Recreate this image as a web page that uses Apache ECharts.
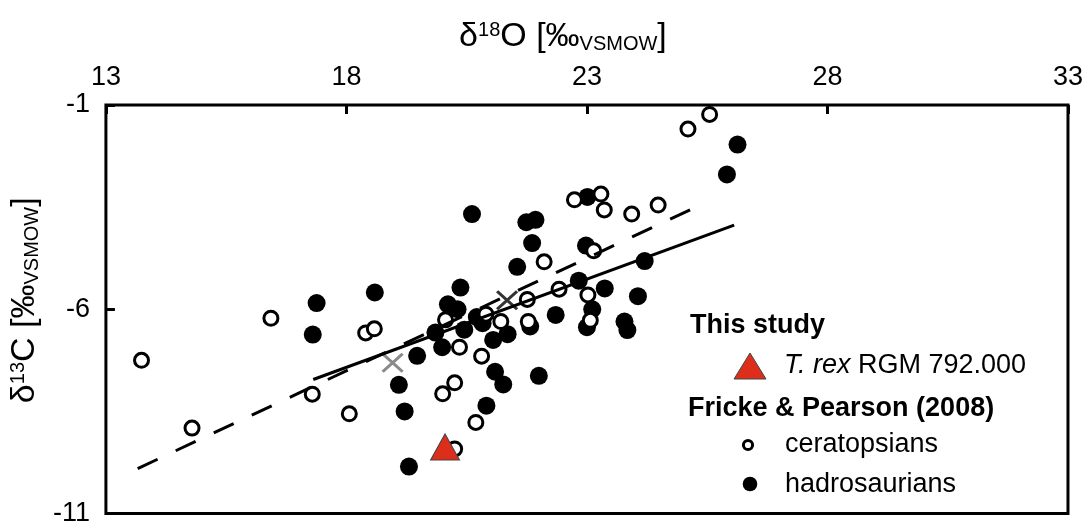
<!DOCTYPE html>
<html>
<head>
<meta charset="utf-8">
<script src="https://cdn.jsdelivr.net/npm/echarts@6/dist/echarts.min.js"></script>
<style>
  html, body { margin: 0; padding: 0; background: #fff; }
  #chart { width: 1086px; height: 527px; }
</style>
</head>
<body>
<div id="chart"></div>
<script>
// Fricke & Pearson (2008) data, [d18O, d13C]
const hadrosaurians = [
  [17.38, -5.85], [17.30, -6.62], [18.59, -5.59], [19.47, -7.14], [19.09, -7.85],
  [19.21, -8.50], [19.30, -9.85], [19.99, -6.93], [19.85, -6.57], [20.11, -5.88],
  [20.31, -6.00], [20.37, -5.47], [20.61, -3.67], [20.45, -6.50], [20.71, -6.19],
  [20.83, -6.34], [21.05, -6.75], [21.35, -6.61], [21.09, -7.53], [21.26, -7.84],
  [20.91, -8.36], [22.00, -7.63], [21.55, -4.96], [21.74, -3.87], [21.93, -3.81],
  [21.86, -4.38], [22.83, -5.30], [23.37, -5.49], [24.06, -5.68], [24.20, -4.82],
  [22.98, -4.44], [23.01, -3.25], [22.35, -6.14], [23.11, -6.00], [23.00, -6.44],
  [21.82, -6.42], [23.78, -6.30], [23.84, -6.51], [26.13, -1.97], [25.91, -2.70]
];
const ceratopsians = [
  [13.74, -7.25], [14.79, -8.91], [16.43, -6.22], [17.29, -8.08], [18.06, -8.56],
  [18.40, -6.58], [18.58, -6.48], [20.00, -8.07], [20.25, -7.80], [20.69, -8.77],
  [20.25, -9.42], [20.06, -6.26], [20.35, -6.93], [20.90, -6.12], [21.21, -6.30],
  [20.81, -7.15], [21.76, -5.76], [21.78, -6.30], [22.11, -4.84], [22.42, -5.51],
  [23.02, -5.65], [23.07, -6.27], [23.14, -4.57], [22.74, -3.32], [23.29, -3.18],
  [23.36, -3.57], [23.93, -3.67], [24.48, -3.45], [25.10, -1.59], [25.55, -1.23]
];
// This study
const tRex = [[20.05, -9.37]];
// group means (X marks)
const meanGrey = [[18.96, -7.31]];
const meanDark = [[21.34, -5.78]];
// regression lines
const fitSolid = [[17.31, -7.72], [26.06, -3.94]];
const fitDashed = [[13.66, -9.90], [25.50, -3.37]];

const FONT = 'Liberation Sans, Arial, Helvetica, sans-serif';
const crossPath = 'path://M0,0L20,20M20,0L0,20';

// rich text for the axis titles (super- and subscripts)
const titleRich = {
  t: { fontSize: 34, color: '#000', fontFamily: FONT },
  sup: { fontSize: 20, color: '#000', verticalAlign: 'top', fontFamily: FONT },
  sub: { fontSize: 20, color: '#000', verticalAlign: 'bottom', fontFamily: FONT }
};

let myChart = echarts.init(document.getElementById('chart'));

let option = {
  animation: false,
  textStyle: { fontFamily: FONT, color: '#000' },
  grid: {
    left: 104, top: 105, width: 967, height: 412,
    show: true, borderColor: '#000', borderWidth: 3, backgroundColor: 'transparent'
  },
  xAxis: {
    type: 'value',
    position: 'top',
    min: 13, max: 33, interval: 5,
    axisLine: { show: false },
    axisTick: { inside: true, length: 9, lineStyle: { color: '#000', width: 3 } },
    splitLine: { show: false },
    axisLabel: { fontSize: 27, color: '#000', margin: 14, fontFamily: FONT },
    name: '{t|δ}{sup|18}{t|O [‰}{sub|VSMOW}{t|]}',
    nameLocation: 'middle',
    nameGap: 51,
    nameTextStyle: { fontFamily: FONT, rich: titleRich, padding: [0, 48, 0, 0] }
  },
  yAxis: {
    type: 'value',
    min: -11, max: -1, interval: 5,
    axisLine: { show: false },
    axisTick: { inside: true, length: 9, lineStyle: { color: '#000', width: 3 } },
    splitLine: { show: false },
    axisLabel: { fontSize: 27, color: '#000', margin: 16, fontFamily: FONT },
    name: '{t|δ}{sup|13}{t|C [‰}{sub|VSMOW}{t|]}',
    nameLocation: 'middle',
    nameRotate: 90,
    nameGap: 47,
    nameTextStyle: { fontFamily: FONT, rich: titleRich, padding: [0, 0, 0, 18] }
  },
  series: [
    {
      name: 'fit dashed',
      type: 'line',
      data: fitDashed,
      symbol: 'none',
      lineStyle: { color: '#000', width: 3, type: [22, 20] }
    },
    {
      name: 'fit solid',
      type: 'line',
      data: fitSolid,
      symbol: 'none',
      lineStyle: { color: '#000', width: 3 }
    },
    {
      name: 'hadrosaurians',
      type: 'scatter',
      data: hadrosaurians,
      symbol: 'circle',
      symbolSize: 18,
      itemStyle: { color: '#000', opacity: 1 }
    },
    {
      name: 'ceratopsians',
      type: 'scatter',
      data: ceratopsians,
      symbol: 'circle',
      symbolSize: 14,
      itemStyle: { color: '#fff', borderColor: '#000', borderWidth: 3, opacity: 1 }
    },
    {
      name: 'mean grey',
      type: 'scatter',
      data: meanGrey,
      symbol: crossPath,
      symbolSize: [20, 18],
      itemStyle: { color: 'rgba(0,0,0,0)', borderColor: '#8a8a8a', borderWidth: 3, opacity: 1 }
    },
    {
      name: 'mean dark',
      type: 'scatter',
      data: meanDark,
      symbol: crossPath,
      symbolSize: [20, 18],
      itemStyle: { color: 'rgba(0,0,0,0)', borderColor: '#333', borderWidth: 3, opacity: 1 }
    },
    {
      name: 'T. rex RGM 792.000',
      type: 'scatter',
      data: tRex,
      symbol: 'triangle',
      symbolSize: [29, 26],
      itemStyle: { color: '#dd2e1b', borderColor: '#444', borderWidth: 1, opacity: 1 }
    }
  ],
  graphic: [
    {
      type: 'text', left: 690, top: 312,
      style: { text: 'This study', font: 'bold 27px ' + FONT, fill: '#000' }
    },
    {
      type: 'polygon',
      shape: { points: [[750, 353], [734, 379], [766, 379]] },
      style: { fill: '#dd2e1b', stroke: '#444', lineWidth: 1 }
    },
    {
      type: 'text', left: 784, top: 352,
      style: {
        text: '{i|T. rex} RGM 792.000',
        font: '27px ' + FONT, fill: '#000',
        rich: { i: { fontStyle: 'italic', fontSize: 27, fontFamily: FONT } }
      }
    },
    {
      type: 'text', left: 688, top: 395,
      style: { text: 'Fricke & Pearson (2008)', font: 'bold 27px ' + FONT, fill: '#000' }
    },
    {
      type: 'circle',
      shape: { cx: 748, cy: 445, r: 4.6 },
      style: { fill: '#fff', stroke: '#000', lineWidth: 3 }
    },
    {
      type: 'text', left: 785, top: 431,
      style: { text: 'ceratopsians', font: '27px ' + FONT, fill: '#000' }
    },
    {
      type: 'circle',
      shape: { cx: 750, cy: 484, r: 7.3 },
      style: { fill: '#000' }
    },
    {
      type: 'text', left: 785, top: 471,
      style: { text: 'hadrosaurians', font: '27px ' + FONT, fill: '#000' }
    }
  ]
};

myChart.setOption(option);
</script>
</body>
</html>
